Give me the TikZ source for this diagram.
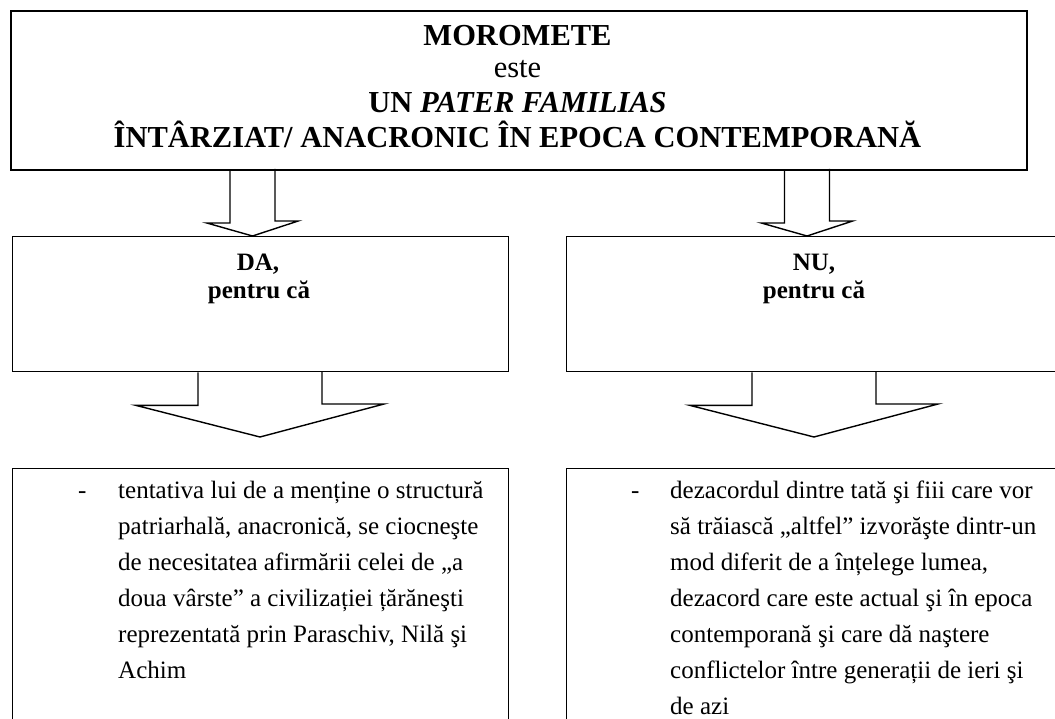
\documentclass[tikz,border=0pt]{standalone}
\usepackage{fontspec}
\setmainfont{LiberationSerif}[Extension=.ttf, UprightFont=*-Regular, BoldFont=*-Bold, ItalicFont=*-Italic, BoldItalicFont=*-BoldItalic]
\begin{document}
\begin{tikzpicture}[x=1pt,y=-1pt,
  box/.style={draw, line width=1.4pt, inner sep=0pt, anchor=north west},
  topbox/.style={box, line width=2pt},
  arrowline/.style={draw, line width=1.4pt, line join=miter},
  ttl/.style={font=\fontsize{30.5}{34}\selectfont\bfseries, anchor=base, inner sep=0pt},
  ttlr/.style={font=\fontsize{30.5}{34}\selectfont, anchor=base, inner sep=0pt},
  hd/.style={font=\fontsize{25}{28}\selectfont\bfseries, anchor=base, inner sep=0pt},
  body/.style={font=\fontsize{25}{36}\selectfont, anchor=base west, inner sep=0pt, text depth=0pt}
]
\useasboundingbox (0,0) rectangle (1055,719);
\fill[white] (0,0) rectangle (1055,719);

% boxes
\node[topbox, minimum width=1016pt, minimum height=159pt] (top) at (9.5,10) {};
\node[box, minimum width=496pt, minimum height=135pt] (da) at (12,236) {};
\node[box, minimum width=496pt, minimum height=135pt] (nu) at (566,236) {};
\node[box, minimum width=496pt, minimum height=300pt] (left) at (12,467.5) {};
\node[box, minimum width=496pt, minimum height=300pt] (right) at (566,467.5) {};

% title text
\node[ttl]  (t1) at (517.5,46)  {MOROMETE};
\node[ttlr] (t2) at (517.5,78)  {este};
\node[ttl]  (t3) at (517.5,113) {UN \textit{PATER FAMILIAS}};
\node[ttl]  (t4) at (517.5,148) {ÎNTÂRZIAT/ ANACRONIC ÎN EPOCA CONTEMPORANĂ};

% heading texts
\node[hd] (da1) at (258,271) {DA,};
\node[hd] (da2) at (259,299) {pentru că};
\node[hd] (nu1) at (814,271) {NU,};
\node[hd] (nu2) at (814,299) {pentru că};

% arrow tips
\coordinate (A1) at (252.5,236);
\coordinate (A2) at (807,236);
\coordinate (B1) at (260,437);
\coordinate (B2) at (814,437);

% top arrows (block outlines hanging from the title box)
\draw[arrowline] (top.south -| A1) ++(-22.5,0) -- ++(0,52) -- ++(-23.2,0) -- (A1)
   -- ++(45.7,-15) -- ++(-23.2,0) -- ++(0,-52);
\draw[arrowline] (top.south -| A2) ++(-22.5,0) -- ++(0,52) -- ++(-23.2,0) -- (A2)
   -- ++(45.7,-15) -- ++(-23.2,0) -- ++(0,-52);

% down arrows
\draw[arrowline] (da.south -| B1) ++(-62,0) -- ++(0,33) -- ++(-62,0) -- (B1)
   -- ++(124,-33) -- ++(-62,0) -- ++(0,-33);
\draw[arrowline] (nu.south -| B2) ++(-62,0) -- ++(0,33) -- ++(-62,0) -- (B2)
   -- ++(124,-33) -- ++(-62,0) -- ++(0,-33);

% left body
\node[body] (ld) at (78,498) {-};
\foreach \t [count=\i from 0] in {
  {tentativa lui de a menține o structură},
  {patriarhală, anacronică, se ciocneşte},
  {de necesitatea afirmării celei de „a},
  {doua vârste” a civilizației țărăneşti},
  {reprezentată prin Paraschiv, Nilă şi},
  {Achim}}
  \node[body] (L\i) at (118,498+36*\i) {\t};

% right body
\node[body] (rd) at (631,498) {-};
\foreach \t [count=\i from 0] in {
  {dezacordul dintre tată şi fiii care vor},
  {să trăiască „altfel” izvorăşte dintr-un},
  {mod diferit de a înțelege lumea,},
  {dezacord care este actual şi în epoca},
  {contemporană şi care dă naştere},
  {conflictelor între generații de ieri şi},
  {de azi}}
  \node[body] (R\i) at (670,498+36*\i) {\t};
\end{tikzpicture}
\end{document}
